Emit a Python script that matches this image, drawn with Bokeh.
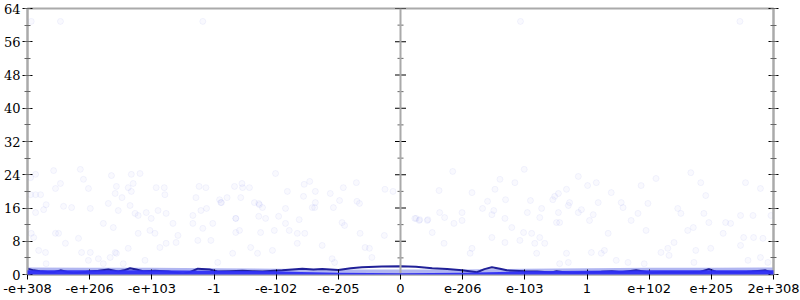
from bokeh.plotting import figure
from bokeh.models import (Range1d, FixedTicker, LinearAxis, Span, SingleIntervalTicker,
                          CustomLabelingPolicy)
from bokeh.embed import file_html
from bokeh.resources import INLINE

# ---- data ----
x_ticks = [-6, -5, -4, -3, -2, -1, 0, 1, 2, 3, 4, 5, 6]
x_labels = ["-e+308", "-e+206", "-e+103", "-1", "-e-102", "-e-205", "0",
            "e-206", "e-103", "1", "e+102", "e+205", "2e+308"]
y_major = [0, 8, 16, 24, 32, 40, 48, 56, 64]
y_minor = [4, 12, 20, 28, 36, 44, 52, 60]

scatter_x = [
    -5.70, -5.87, -5.74, -5.42, -5.29, -4.99, -4.78, -4.62, -4.70, -4.54, -4.35, -4.27, -4.22, -4.09,
    -4.01, -3.90, -3.77, -3.66, -3.34, -3.34, -3.21, -3.02, -2.89, -2.65, -2.59, -2.27, -2.25,
    -5.94, -5.90, -5.82, -5.71, -5.70, -5.55, -5.50, -5.39, -5.18, -5.13, -4.99, -5.02, -4.86,
    -4.78, -4.59, -4.57, -4.67, -4.38, -4.46, -4.22, -4.11, -4.03, -3.95, -3.87, -3.77, -3.61,
    -3.58, -3.26, -3.18, -3.05, -2.94, -2.70, -2.65, -2.41, -2.30,
    -5.87, -5.95, -5.58, -5.15, -5.10, -5.47, -5.55, -5.02, -4.65, -4.33, -4.19, -4.30, -4.57,
    -4.38, -4.33, -3.93, -3.80, -3.24, -5.95, -5.87, -5.79, -4.59, -4.48, -3.79, -3.29,
    -2.01, -3.13, -2.67, -2.55, -2.54, -2.43, -1.82, -1.55, -1.46, -1.37, -1.13, -0.92, -0.71,
    -0.25, -0.12, -2.91, -2.88, -2.79, -2.57, -2.35, -2.28, -2.22, -1.56, -1.37, -1.42, -1.08,
    -0.98, -0.70, -0.66, -3.12, -2.65, -2.28, -1.96, -1.63,
    0.84, 1.99, 1.60, 1.84, 2.86, 3.01, 3.15, 0.62, 1.15, 1.52, 1.69, 1.40, 2.09, 2.45, 2.48,
    2.54, 2.67, 2.72, 3.18, 0.63, 0.99, 1.32, 1.50, 1.47, 1.68, 2.04, 2.24, 2.54, 2.91, 3.10,
    0.25, 0.31, 0.44,
    0.23, 0.30, 0.43, 0.71, 0.51, 0.70, 1.15, 1.12, 1.47, 1.68, 1.79, 1.98, 1.92, 2.11, 2.24,
    0.86, 0.99, -0.94, -0.90, -0.65, -0.26, -0.57, -0.50, -1.10, -1.06, -1.26, -2.06, -1.79,
    -1.66, -1.54, -1.66, -1.85, -1.85, -2.17, -1.38, -2.03, -0.46,
    2.16, 2.32, 2.19, 2.27, 2.51, 2.56, 2.67, 2.70, 2.56, 2.70, 2.86, 3.04, 3.07, 3.23, 3.28,
    3.34, 3.47, 3.55, 3.58, 3.66, 3.71, 3.82, 3.95, 3.98, 3.92, 4.19, 4.32, 4.30, 4.40, 4.46,
    4.51, 4.62, 4.71, 4.75, 4.72, 4.88, 4.96, 4.99, 5.19, 5.23, 5.31, 5.47, 5.67, 5.52, 5.47,
    5.68, 5.83, 5.79, 5.96, 5.91, 5.59,
    3.39, 3.87, 4.11, 4.67, 4.91, 5.55, 5.79, 4.83,
    -5.94, -5.47, -3.18, 1.93, 5.46,
]
scatter_y = [
    16.8, 14.9, 15.6, 16.4, 16.1, 15.9, 12.3, 11.3, 17.1, 15.4, 16.6, 14.7, 14.2, 14.9,
    13.5, 15.4, 14.7, 12.3, 14.2, 12.3, 15.4, 12.3, 17.3, 13.5, 10.6, 16.8, 10.1,
    9.9, 8.9, 5.8, 5.3, 2.6, 9.9, 9.9, 7.5, 8.7, 5.3, 5.3, 3.4, 3.8,
    2.6, 5.3, 5.1, 4.1, 6.3, 2.6, 9.9, 3.4, 10.6, 9.9, 6.5, 7.5, 7.7,
    9.4, 8.2, 11.1, 8.2, 2.9, 5.1, 10.1, 6.5, 5.1,
    24.1, 23.3, 25.0, 25.3, 22.9, 21.9, 20.7, 20.7, 23.8, 24.1, 24.3, 21.9, 21.2,
    20.9, 20.0, 20.9, 20.9, 21.2, 19.2, 19.2, 19.2, 19.5, 18.5, 19.2, 18.5,
    24.3, 20.9, 21.2, 21.9, 20.9, 20.9, 20.0, 21.7, 22.4, 20.0, 19.5, 20.9, 22.1,
    20.5, 20.0, 18.0, 17.3, 18.5, 18.5, 17.3, 17.1, 16.1, 18.8, 17.3, 16.1, 16.1,
    17.8, 17.6, 17.1, 15.9, 13.5, 14.0, 14.0, 13.2,
    24.8, 25.3, 22.9, 22.1, 23.6, 21.4, 22.1, 20.2, 19.7, 20.5, 18.0, 17.6, 17.8, 18.0, 18.8,
    19.5, 20.5, 17.3, 17.3, 14.9, 14.9, 15.9, 15.4, 14.4, 13.5, 14.9, 13.7, 14.9, 15.6, 14.4,
    13.5, 13.2, 13.2,
    13.5, 13.0, 13.0, 13.7, 10.1, 7.5, 6.3, 5.1, 8.9, 7.7, 11.3, 10.1, 8.2, 9.9, 8.9,
    12.3, 13.0, 12.5, 11.8, 9.9, 9.4, 6.5, 6.3, 3.8, 2.9, 7.0, 5.8, 10.6,
    9.9, 9.9, 7.5, 12.3, 15.9, 13.5, 16.1, 10.6, 4.1,
    7.5, 7.5, 5.1, 15.9, 12.5, 12.5, 5.1, 2.9, 2.6, 16.6, 14.9, 13.0, 5.3, 5.1, 5.8,
    9.9, 3.4, 17.3, 16.1, 2.9, 13.0, 14.7, 10.6, 17.1, 2.6, 5.3, 4.6, 6.3, 7.7, 15.9,
    14.7, 10.6, 11.3, 5.8, 2.9, 14.7, 12.5, 6.3, 9.9, 12.5, 12.3, 14.2, 14.2, 8.9, 7.0,
    8.9, 8.7, 4.1, 14.2, 2.9, 3.4,
    19.7, 21.4, 23.1, 24.5, 19.0, 22.1, 20.7, 22.1,
    60.9, 60.9, 60.9, 60.9, 60.9,
]

avg_x = [-6.00, -5.90, -5.80, -5.68, -5.58, -5.47, -5.36, -5.26, -5.12, -5.01, -4.86, -4.70,
         -4.54, -4.45, -4.35, -4.25, -4.14, -3.95, -3.74, -3.60, -3.50, -3.38, -3.26, -3.07,
         -2.94, -2.75, -2.54, -2.38, -2.22, -1.90, -1.74, -1.58, -1.40, -1.26, -1.00, -0.80,
         -0.62, -0.30, 0.00, 0.25, 0.51, 0.75, 0.99, 1.23, 1.35, 1.47, 1.60, 1.71, 2.00, 2.20,
         2.43, 2.51, 2.75, 3.00, 3.23, 3.40, 3.55, 3.79, 4.03, 4.25, 4.51, 4.70, 4.83, 4.96,
         5.07, 5.25, 5.47, 5.65, 5.87, 6.00]
avg_y = [1.4, 1.0, 0.8, 0.6, 0.55, 1.0, 0.6, 0.3, 0.5, 0.7, 0.9, 1.2,
         0.7, 1.0, 1.5, 1.2, 0.8, 0.9, 0.7, 0.4, 0.1, 0.6, 1.4, 1.2,
         0.7, 0.8, 0.9, 0.8, 0.7, 1.0, 1.2, 1.4, 1.2, 1.3, 1.1, 1.5,
         1.75, 1.9, 2.0, 1.85, 1.5, 1.3, 1.0, 0.55, 1.3, 1.75, 1.4, 1.0, 0.8, 0.7,
         0.5, 0.8, 0.3, 0.5, 0.65, 0.8, 0.55, 1.0, 0.4, 0.6, 0.55, 0.6, 0.65, 1.3,
         0.65, 0.6, 0.5, 0.7, 1.0, 0.3]

band_x = [-6, -5, -4, -3, -2, -1.6, -1, 0, 1, 1.6, 2, 3, 4, 5, 6]
dense_top = [1.0, 1.0, 1.0, 0.9, 0.8, 0.6, 0.4, 0.3, 0.4, 0.6, 0.8, 0.9, 1.0, 1.0, 1.0]
pale_top = [1.7, 1.6, 1.6, 1.5, 1.4, 1.3, 1.2, 1.2, 1.2, 1.3, 1.4, 1.5, 1.6, 1.6, 1.7]

# ---- figure ----
p = figure(width=800, height=300, output_backend="svg", toolbar_location=None,
           x_range=Range1d(-6, 6), y_range=Range1d(0, 64),
           min_border_left=24, min_border_right=27, min_border_top=8, min_border_bottom=26,
           x_axis_location="below", y_axis_location="left")
p.grid.visible = False
p.background_fill_color = "white"
p.border_fill_color = "white"
p.outline_line_color = "#aaaaaa"
p.outline_line_width = 2

# scatter
p.scatter(scatter_x, scatter_y, size=6, fill_color="#3040e0", fill_alpha=0.03,
          line_color="#3040e0", line_alpha=0.05)
# dense bands near zero
p.varea(x=band_x, y1=[0] * len(band_x), y2=pale_top, fill_color="#9ea4ee", fill_alpha=0.8)
p.varea(x=band_x, y1=[0] * len(band_x), y2=dense_top, fill_color="#2f2ff5", fill_alpha=0.95,
        level="overlay")
# moving average line
p.line(avg_x, avg_y, line_color="#202098", line_width=2)

# axes styling
for ax in [p.xaxis[0], p.yaxis[0]]:
    ax.axis_line_color = "#aaaaaa"
    ax.axis_line_width = 2
    ax.major_tick_line_color = "black"
    ax.major_tick_in = 5
    ax.major_tick_out = 5
    ax.major_label_text_color = "black"
    ax.major_label_text_font_size = "13px"

xa = p.xaxis[0]
xa.ticker = FixedTicker(ticks=x_ticks)
xa.major_label_overrides = {t: l for t, l in zip(x_ticks, x_labels)}
xa.minor_tick_line_color = None
xa.major_label_text_font = "DejaVu Sans"
xa.major_label_standoff = 4

ya = p.yaxis[0]
ya.ticker = SingleIntervalTicker(interval=8, num_minor_ticks=2)
ya.minor_tick_in = 3
ya.minor_tick_out = 3
ya.minor_tick_line_color = "#666666"
ya.major_label_text_font = "DejaVu Serif"
ya.major_label_standoff = 2

ra = LinearAxis(ticker=SingleIntervalTicker(interval=8, num_minor_ticks=2))
ra.axis_line_color = "#aaaaaa"
ra.axis_line_width = 2
ra.major_tick_in = 5
ra.major_tick_out = 5
ra.minor_tick_in = 3
ra.minor_tick_out = 3
ra.minor_tick_line_color = "#666666"
ra.major_label_standoff = 0
ra.major_label_policy = CustomLabelingPolicy(
    code="const a = [...indices]; for (const i of a) indices.unset(i); return indices;")
p.add_layout(ra, "right")

# center axis at x = 0
p.add_layout(Span(location=0, dimension="height", line_color="#aaaaaa", line_width=2))
p.scatter([0] * len(y_major), y_major, marker="dash", size=11, line_color="black", line_width=1)
p.scatter([0] * len(y_minor), y_minor, marker="dash", size=6, line_color="#666666", line_width=1)

open("out.html", "w").write(file_html(p, INLINE))
